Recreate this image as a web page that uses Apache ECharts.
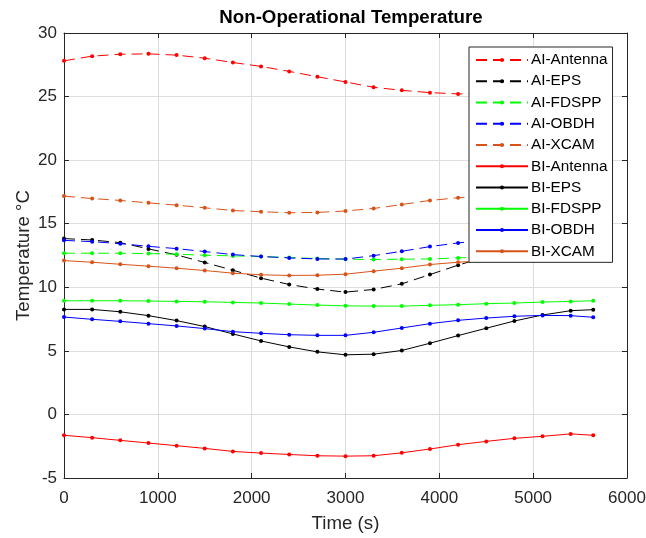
<!DOCTYPE html>
<html>
<head>
<meta charset="utf-8">
<title>Non-Operational Temperature</title>
<script src="https://cdn.jsdelivr.net/npm/echarts@6/dist/echarts.min.js"></script>
<style>
  html, body { margin: 0; padding: 0; background: #fff; }
  #chart { width: 646px; height: 538px; }
</style>
</head>
<body>
<div id="chart"></div>
<script>
// Sample times (s)
var times = [0, 300, 600, 900, 1200, 1500, 1800, 2100, 2400, 2700, 3000,
             3300, 3600, 3900, 4200, 4500, 4800, 5100, 5400, 5640];

// AI case temperatures (°C)
var aiAntenna = [27.81, 28.18, 28.33, 28.36, 28.26, 28.02, 27.68, 27.37, 26.98, 26.56, 26.15,
                 25.73, 25.49, 25.31, 25.21, 25.20, 25.30, 25.50, 25.80, 26.00];
var aiEPS     = [13.83, 13.72, 13.51, 13.02, 12.55, 11.95, 11.34, 10.72, 10.22, 9.86, 9.62,
                 9.83, 10.27, 11.00, 11.74, 12.40, 12.90, 13.30, 13.60, 13.70];
var aiFDSPP   = [12.68, 12.68, 12.68, 12.65, 12.60, 12.52, 12.47, 12.42, 12.34, 12.26, 12.21,
                 12.18, 12.21, 12.23, 12.31, 12.40, 12.50, 12.60, 12.65, 12.68];
var aiOBDH    = [13.69, 13.59, 13.43, 13.22, 13.04, 12.81, 12.57, 12.42, 12.31, 12.23, 12.22,
                 12.49, 12.83, 13.20, 13.49, 13.70, 13.80, 13.85, 13.85, 13.80];
var aiXCAM    = [17.17, 16.98, 16.83, 16.64, 16.46, 16.25, 16.04, 15.94, 15.86, 15.89, 16.00,
                 16.20, 16.51, 16.83, 17.04, 17.20, 17.30, 17.40, 17.45, 17.45];

// BI case temperatures (°C)
var biAntenna = [-1.64, -1.83, -2.04, -2.25, -2.46, -2.67, -2.91, -3.04, -3.15, -3.25, -3.28,
                 -3.25, -3.02, -2.72, -2.38, -2.12, -1.88, -1.72, -1.53, -1.64];
var biEPS     = [8.26, 8.26, 8.07, 7.77, 7.38, 6.91, 6.33, 5.78, 5.31, 4.92, 4.69,
                 4.74, 5.03, 5.60, 6.20, 6.78, 7.35, 7.82, 8.16, 8.24];
var biFDSPP   = [8.94, 8.94, 8.94, 8.92, 8.89, 8.86, 8.81, 8.76, 8.68, 8.60, 8.54,
                 8.52, 8.52, 8.58, 8.63, 8.71, 8.76, 8.84, 8.89, 8.94];
var biOBDH    = [7.66, 7.48, 7.32, 7.14, 6.96, 6.75, 6.51, 6.38, 6.27, 6.22, 6.22,
                 6.46, 6.80, 7.14, 7.40, 7.58, 7.72, 7.79, 7.77, 7.64];
var biXCAM    = [12.10, 11.97, 11.81, 11.66, 11.50, 11.32, 11.11, 10.98, 10.93, 10.95, 11.03,
                 11.27, 11.50, 11.79, 11.97, 12.10, 12.20, 12.25, 12.25, 12.20];

var seriesNames = ['AI-Antenna', 'AI-EPS', 'AI-FDSPP', 'AI-OBDH', 'AI-XCAM',
                   'BI-Antenna', 'BI-EPS', 'BI-FDSPP', 'BI-OBDH', 'BI-XCAM'];
var seriesValues = [aiAntenna, aiEPS, aiFDSPP, aiOBDH, aiXCAM,
                    biAntenna, biEPS, biFDSPP, biOBDH, biXCAM];
var seriesColors = ['#ff0000', '#000000', '#00ff00', '#0000ff', '#d95319',
                    '#ff0000', '#000000', '#00ff00', '#0000ff', '#d95319'];

var FONT = 'Liberation Sans, Arial, Helvetica, sans-serif';
var AXIS_COLOR = '#262626';
var GRID_COLOR = '#dedede';

function pairs(vals) {
  return times.map(function (t, i) { return [t, vals[i]]; });
}

var series = seriesNames.map(function (name, i) {
  var dashed = name.indexOf('AI-') === 0;
  return {
    name: name,
    type: 'line',
    data: pairs(seriesValues[i]),
    symbol: 'circle',
    symbolSize: 4,
    showAllSymbol: true,
    animation: false,
    color: seriesColors[i],
    lineStyle: { width: 1, color: seriesColors[i], type: dashed ? [11, 6] : 'solid' },
    itemStyle: { color: seriesColors[i] },
    emphasis: { disabled: true }
  };
});

function boxAxis(base) {
  // shared styling for the four sides of the axes box
  return Object.assign({
    type: 'value',
    nameMoveOverlap: false,
    axisLine: { show: true, onZero: false, lineStyle: { color: AXIS_COLOR, width: 1 } },
    axisTick: { show: true, inside: true, length: 5, lineStyle: { color: AXIS_COLOR } }
  }, base);
}

var chart = echarts.init(document.getElementById('chart'), null, { renderer: 'canvas' });

chart.setOption({
  backgroundColor: '#ffffff',
  animation: false,
  textStyle: { fontFamily: FONT },
  title: {
    text: 'Non-Operational Temperature',
    left: 346,
    top: 3,
    textAlign: 'center',
    textStyle: { fontFamily: FONT, fontSize: 18.7, fontWeight: 'bold', color: '#000' }
  },
  grid: { left: 64, right: 19, top: 33, bottom: 60, containLabel: false, outerBoundsMode: 'none' },
  legend: {
    orient: 'vertical',
    left: 469,
    top: 47,
    padding: [5, 5, 3, 6],
    itemWidth: 52,
    itemHeight: 5,
    itemGap: 5.26,
    backgroundColor: '#ffffff',
    borderColor: AXIS_COLOR,
    borderWidth: 1,
    borderRadius: 0,
    textStyle: { fontFamily: FONT, fontSize: 15.3, lineHeight: 16, color: '#000', padding: [0, 0, 0, -2] },
    data: seriesNames
  },
  xAxis: [boxAxis({
    min: 0, max: 6000, interval: 1000,
    position: 'bottom',
    name: 'Time (s)',
    nameLocation: 'middle',
    nameGap: 36,
    nameTextStyle: { fontFamily: FONT, fontSize: 18.7, color: AXIS_COLOR },
    axisLabel: { fontFamily: FONT, fontSize: 17, color: AXIS_COLOR, margin: 12,
                 formatter: function (v) { return String(v); } },
    splitLine: { show: true, lineStyle: { color: GRID_COLOR, width: 1 } }
  }), boxAxis({
    min: 0, max: 6000, interval: 1000,
    position: 'top',
    axisLabel: { show: false },
    splitLine: { show: false }
  })],
  yAxis: [boxAxis({
    min: -5, max: 30, interval: 5,
    position: 'left',
    name: 'Temperature °C',
    nameLocation: 'middle',
    nameGap: 31,
    nameTextStyle: { fontFamily: FONT, fontSize: 18.7, color: AXIS_COLOR },
    axisLabel: { fontFamily: FONT, fontSize: 17, color: AXIS_COLOR, margin: 7,
                 formatter: function (v) { return String(v); } },
    splitLine: { show: true, lineStyle: { color: GRID_COLOR, width: 1 } }
  }), boxAxis({
    min: -5, max: 30, interval: 5,
    position: 'right',
    axisLabel: { show: false },
    splitLine: { show: false }
  })],
  series: series
});
</script>
</body>
</html>
